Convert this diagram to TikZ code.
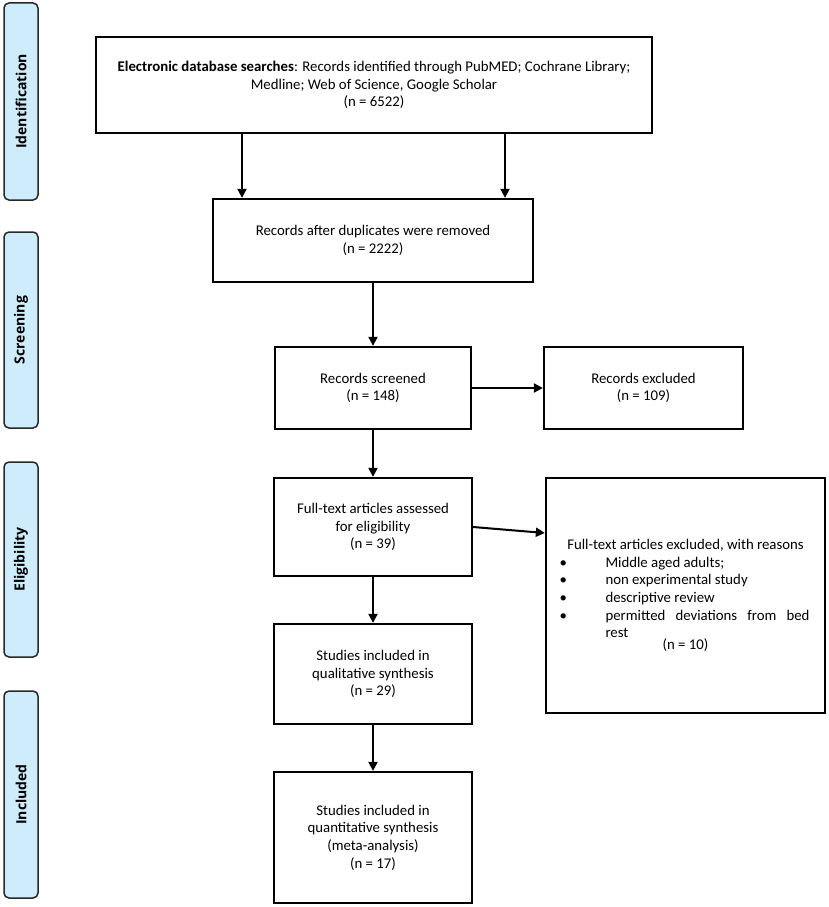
\documentclass[tikz,border=0pt]{standalone}
\usepackage{fontspec}
\setmainfont{Carlito}
\newfontfamily\sidefont{Open Sans}
\usetikzlibrary{arrows.meta,calc}
\definecolor{sidefill}{RGB}{206,236,252}
\definecolor{sideline}{RGB}{40,40,40}
\tikzset{
  box/.style={draw=black, line width=2.3pt, fill=white, align=center, inner sep=0pt,
    font=\fontsize{14.8}{17.7}\selectfont},
  side/.style={draw=sideline, line width=1.5pt, fill=sidefill, rounded corners=5pt,
    minimum width=34pt, inner sep=0pt},
  sidetext/.style={rotate=90, font=\sidefont\fontsize{14}{17}\selectfont\bfseries},
  arr/.style={line width=2pt, -{Triangle[length=9pt,width=9pt]}}
}
\begin{document}
\begin{tikzpicture}[x=1pt,y=-1pt]
\useasboundingbox (0,0) rectangle (829,907);
% side labels
\node[side, minimum height=197pt] (sid) at (21,101.5) {};
\node[sidetext] (sidt) at (sid.center) {Identification};
\node[side, minimum height=196pt] (ssc) at (21,330) {};
\node[sidetext] (ssct) at (ssc.center) {Screening};
\node[side, minimum height=195pt] (sel) at (21,559.5) {};
\node[sidetext] (selt) at (sel.center) {Eligibility};
\node[side, minimum height=207pt] (sin) at (21,794.5) {};
\node[sidetext] (sint) at (sin.center) {Included};
% boxes
\node[box, minimum width=556pt, minimum height=96pt] (b1) at (374,85)
  {\textbf{Electronic database searches}: Records identified through PubMED; Cochrane Library;\\
   Medline; Web of Science, Google Scholar\\ (n = 6522)};
\node[box, minimum width=320pt, minimum height=83pt] (b2) at (373,240.5)
  {Records after duplicates were removed\\ (n = 2222)};
\node[box, minimum width=196pt, minimum height=82pt] (b3) at (373,388)
  {Records screened\\ (n = 148)};
\node[box, minimum width=199pt, minimum height=82pt] (e1) at (643.5,388)
  {Records excluded\\ (n = 109)};
\node[box, minimum width=198pt, minimum height=98pt] (b4) at (373,527)
  {Full-text articles assessed\\ for eligibility\\ (n = 39)};
\node[box, minimum width=279pt, minimum height=235pt, text width=252pt, align=justify] (e2) at (685.5,595.5)
  {{\centering Full-text articles excluded, with reasons\par}
   \noindent\makebox[46pt][l]{\textbullet}Middle aged adults;\par
   \noindent\makebox[46pt][l]{\textbullet}non experimental study\par
   \noindent\makebox[46pt][l]{\textbullet}descriptive review\par
   \noindent\makebox[46pt][l]{\textbullet}\parbox[t]{204pt}{\fontsize{14.8}{17.7}\selectfont\rightskip=0pt\relax
     permitted deviations from bed\linebreak rest}\par
   {\centering (n = 10)\par}};
\node[box, minimum width=198pt, minimum height=100pt] (b5) at (373,674)
  {Studies included in\\ qualitative synthesis\\ (n = 29)};
\node[box, minimum width=198pt, minimum height=131pt] (b6) at (373,837.5)
  {Studies included in\\ quantitative synthesis\\ (meta-analysis)\\ (n = 17)};
% connectors
\coordinate (cl) at (242,0);
\coordinate (cr) at (505,0);
\coordinate (ce) at (0,533);
\draw[arr] (b1.south -| cl) -- (b2.north -| cl);
\draw[arr] (b1.south -| cr) -- (b2.north -| cr);
\draw[arr] (b2.south -| b3) -- (b3.north);
\draw[arr] (b3.east) -- (e1.west);
\draw[arr] (b3.south) -- (b4.north);
\draw[arr] (b4.east) -- (e2.west |- ce);
\draw[arr] (b4.south) -- (b5.north);
\draw[arr] (b5.south) -- (b6.north);
\end{tikzpicture}
\end{document}
